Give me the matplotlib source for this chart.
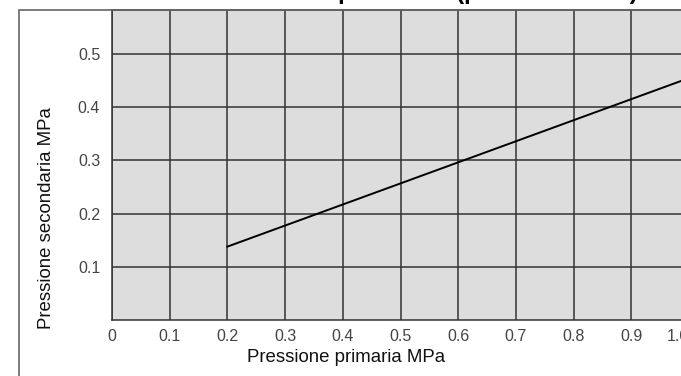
"""Curva pressione secondaria vs pressione primaria."""
import numpy as np
import matplotlib.pyplot as plt
from matplotlib.patches import Rectangle

plt.rcParams['font.family'] = ['Liberation Sans', 'DejaVu Sans']

# dati
pressione_primaria = [0.2, 1.0]
pressione_secondaria = [0.138, 0.455]

x_ticks = [0, 0.1, 0.2, 0.3, 0.4, 0.5, 0.6, 0.7, 0.8, 0.9, 1.0]
x_labels = ["0", "0.1", "0.2", "0.3", "0.4", "0.5", "0.6", "0.7", "0.8", "0.9", "1.0"]
y_ticks = [0.1, 0.2, 0.3, 0.4, 0.5]
y_labels = ["0.1", "0.2", "0.3", "0.4", "0.5"]

W, H = 681, 376
fig = plt.figure(figsize=(W / 100, H / 100), dpi=100)

# cornice esterna
fig.patches.append(Rectangle((19 / W, -0.1), 1.2, 1 - 10 / H + 0.1,
                             transform=fig.transFigure, fill=False,
                             edgecolor='#666666', linewidth=1.2, zorder=0))

ax = fig.add_axes([112 / W, 1 - 320 / H, (689 - 112) / W, (320 - 10) / H])
ax.set_facecolor('#dddddd')
ax.plot(pressione_primaria, pressione_secondaria, color='black', linewidth=1.4, zorder=3)

ax.set_xlim(0, 1.0)
ax.set_ylim(0, 0.583)
ax.set_xticks(x_ticks)
ax.set_xticklabels(x_labels)
ax.set_yticks(y_ticks)
ax.set_yticklabels(y_labels)
ax.tick_params(length=0, labelsize=11.5, labelcolor='#444444')
ax.tick_params(axis='y', pad=8.5)
ax.tick_params(axis='x', pad=6.5)
ax.get_xticklabels()[-1].set_ha('right')
ax.grid(True, color='#333333', linewidth=1.1)
ax.set_axisbelow(True)
for s in ax.spines.values():
    s.set_color('#333333')
    s.set_linewidth(1.1)

ax.set_xlabel("Pressione primaria MPa", fontsize=13.4, color='#111111')
ax.set_ylabel("Pressione secondaria MPa", fontsize=13.4, color='#111111')
ax.xaxis.label.set_va('center')
ax.yaxis.label.set_va('center')
ax.xaxis.set_label_coords((346 - 112) / 577, (320 - 358) / 310)
ax.yaxis.set_label_coords((47 - 112) / 577, (320 - 218) / 310)

# titolo tagliato in alto
fig.text(638 / W, 1 + 1.5 / H, "Curva caratteristica della pressione (pressione max)",
         ha='right', va='baseline', fontsize=17, fontweight='bold')

fig.savefig("out.png", dpi=100)
